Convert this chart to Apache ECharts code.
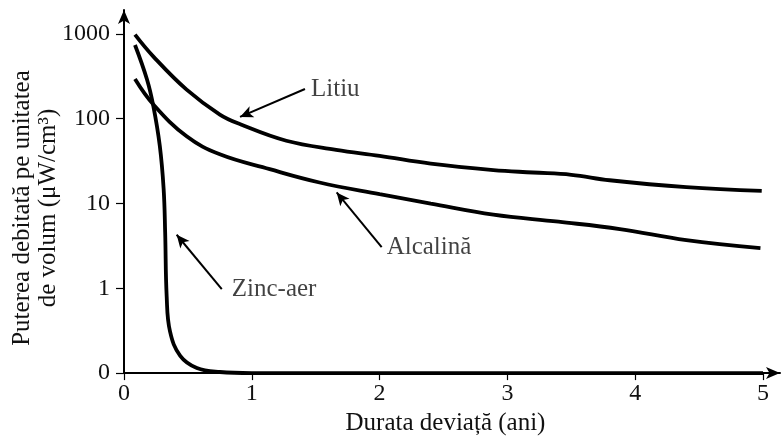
<!DOCTYPE html>
<html>
<head>
<meta charset="utf-8">
<script src="https://cdn.jsdelivr.net/npm/echarts@6/dist/echarts.min.js"></script>
<style>
html,body{margin:0;padding:0;background:#fff;}
#main{width:782px;height:441px;}
</style>
</head>
<body>
<div id="main"></div>
<script>
// durata (ani) / putere (uW/cm3)
var litiuX = [0.086, 0.23, 0.49, 0.75, 0.91, 1.27, 1.66, 2.0, 2.4, 2.89, 3.2, 3.5, 3.8, 4.4, 4.99];
var litiuY = [980, 540, 220, 112, 86, 55, 43, 36.5, 29.5, 24.8, 23.2, 21.8, 18.8, 15.6, 14.1];

var alcX = [0.086, 0.23, 0.49, 0.75, 1.14, 1.53, 2.0, 2.4, 2.89, 3.4, 3.88, 4.4, 4.98];
var alcY = [294, 147, 62, 38, 25.4, 17.7, 12.9, 10, 7.4, 6.1, 5.0, 3.7, 2.98];

var zincX = [0.086, 0.18, 0.23, 0.28, 0.31, 0.322, 0.334, 0.36, 0.44, 0.57, 0.75, 1.0, 5.0];
var zincY = [740, 290, 140, 48, 15, 4.6, 0.8, 0.31, 0.16, 0.115, 0.103, 0.1, 0.1];

var xTicks = [0, 1, 2, 3, 4, 5];
var yTicks = [0.1, 1, 10, 100, 1000];
var yTickLabels = ['0', '1', '10', '100', '1000'];

// sageti: [x, y] coada -> varf
var annoNames = ['Litiu', 'Alcalină', 'Zinc-aer'];
var annoFrom = [[1.416, 224], [2.016, 3.06], [0.765, 0.975]];
var annoTo = [[0.908, 105], [1.664, 13.5], [0.412, 4.28]];

var font = "'Liberation Serif','Times New Roman',serif";
var lg = function (v) { return Math.log10(v); };

function pts(xs, ys) {
    var out = [];
    for (var i = 0; i < xs.length; i++) out.push([xs[i], lg(ys[i])]);
    return out;
}

var curve = function (name, xs, ys) {
    return {
        name: name, type: 'line', data: pts(xs, ys),
        smooth: 0.4, symbol: 'none', clip: false,
        lineStyle: {color: '#000', width: 3.8}
    };
};

var arrows = [], texts = [];
for (var i = 0; i < annoNames.length; i++) {
    arrows.push([
        {coord: [annoFrom[i][0], lg(annoFrom[i][1])]},
        {coord: [annoTo[i][0], lg(annoTo[i][1])]}
    ]);
    texts.push({value: [annoFrom[i][0], lg(annoFrom[i][1])], name: annoNames[i]});
}
var labelGap = [6, 5, 10];
texts.forEach(function (t, i) { t.label = {distance: labelGap[i]}; });

var myChart = echarts.init(document.getElementById('main'));
myChart.setOption({
    animation: false,
    backgroundColor: '#fff',
    grid: {left: 124, right: 2, top: 10, bottom: 66},
    xAxis: {
        type: 'value', min: 0, max: 5.133,
        name: 'Durata deviață (ani)', nameLocation: 'middle', nameGap: 25,
        nameTextStyle: {fontFamily: font, fontSize: 25, color: '#111', padding: [0, 13, 0, 0]},
        axisLine: {onZero: false, lineStyle: {color: '#000', width: 2}, symbol: ['none', 'arrow'], symbolSize: [9, 14]},
        axisTick: {show: true, length: 7, customValues: xTicks, lineStyle: {color: '#000', width: 1.2}},
        axisLabel: {customValues: xTicks, margin: 9, fontFamily: font, fontSize: 24, color: '#111'},
        splitLine: {show: false}
    },
    yAxis: {
        type: 'value', min: -1, max: 3.282,
        axisLine: {show: true, onZero: false, lineStyle: {color: '#000', width: 2}, symbol: ['none', 'arrow'], symbolSize: [9, 14]},
        axisTick: {show: true, length: 8, customValues: yTicks.map(lg), lineStyle: {color: '#000', width: 1.2}},
        axisLabel: {
            customValues: yTicks.map(lg), margin: 14, fontFamily: font, fontSize: 24, color: '#111',
            formatter: function (v) {
                var k = Math.round(v) + 1;
                return yTickLabels[k];
            }
        },
        splitLine: {show: false}
    },
    graphic: [{
        type: 'text', x: 35, y: 208, rotation: Math.PI / 2,
        style: {
            text: 'Puterea debitată pe unitatea\nde volum (μW/cm³)',
            font: '25px ' + font, fill: '#111', align: 'center', verticalAlign: 'middle',
            lineHeight: 26
        }
    }],
    series: [
        curve('Litiu', litiuX, litiuY),
        curve('Alcalină', alcX, alcY),
        curve('Zinc-aer', zincX, zincY),
        {
            type: 'scatter', data: texts, symbolSize: 0, silent: true,
            label: {show: true, position: 'right', formatter: '{b}', fontFamily: font, fontSize: 25, color: '#111'},
            markLine: {
                silent: true, symbol: ['none', 'arrow'], symbolSize: [9, 13],
                label: {show: false},
                lineStyle: {color: '#000', width: 2, type: 'solid'},
                data: arrows
            }
        }
    ]
});
</script>
</body>
</html>
